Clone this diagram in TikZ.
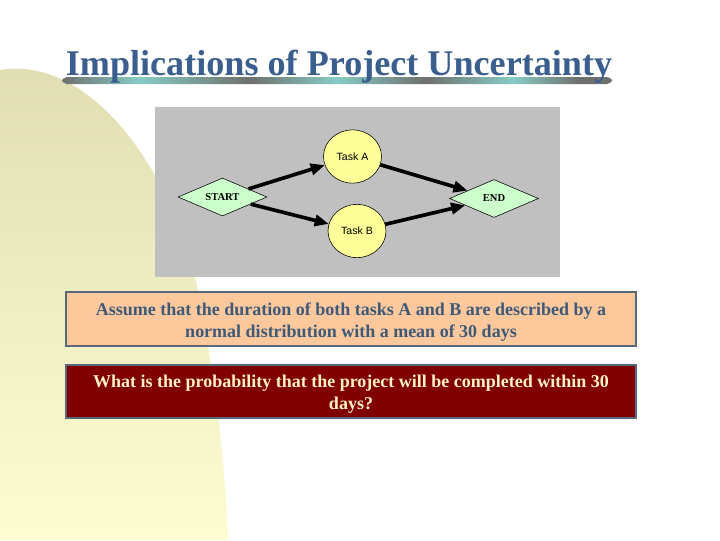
\documentclass[tikz,border=0pt]{standalone}
\usepackage{fontspec}
\setmainfont{Liberation Serif}
\newfontfamily\arialfont{Liberation Sans}
\usetikzlibrary{shapes.geometric, arrows.meta, positioning}

\definecolor{titleblue}{HTML}{3A5F8E}
\definecolor{ylwtop}{HTML}{E0DDB2}
\definecolor{ylwbot}{HTML}{FEFDD2}
\definecolor{bargray}{HTML}{6E706E}
\definecolor{barteal}{HTML}{86CCC4}
\definecolor{panelgray}{HTML}{C0C0C0}
\definecolor{taskfill}{HTML}{FFFF99}
\definecolor{msfill}{HTML}{CCFFCC}
\definecolor{peach}{HTML}{FCC89C}
\definecolor{maroon}{HTML}{800000}
\definecolor{boxline}{HTML}{56687A}
\definecolor{slate}{HTML}{3E5A78}
\definecolor{cream}{HTML}{FFF3C4}

\pgfdeclarehorizontalshading{barshade}{100bp}{color(0bp)=(bargray); color(25bp)=(bargray);
  color(32bp)=(barteal); color(42bp)=(bargray); color(50bp)=(barteal); color(58bp)=(bargray);
  color(66bp)=(barteal); color(72bp)=(bargray); color(75bp)=(bargray); color(100bp)=(bargray)}

\newcommand{\topstrut}{\rule{0pt}{13pt}}

\begin{document}
\begin{tikzpicture}[x=0.025cm, y=-0.025cm,
  task/.style={ellipse, draw=black, fill=taskfill, inner sep=0pt,
    minimum width=1.45cm, minimum height=1.33cm, font=\arialfont\fontsize{7.5}{9}\selectfont},
  milestone/.style={diamond, draw=black, fill=msfill, inner sep=0pt, aspect=2.3,
    minimum width=2.22cm, minimum height=0.95cm, font=\fontsize{7.5}{8}\selectfont\bfseries},
  link/.style={line width=2.6pt, -{Triangle[length=10pt, width=8pt]}},
  msgbox/.style={rectangle, draw=boxline, line width=1.4pt, minimum width=14.25cm,
    align=center, font=\fontsize{12.8}{15.6}\selectfont\bfseries}]

  \useasboundingbox (0,0) rectangle (720,540);
  \fill [white] (0,0) rectangle (720,540);

  % Background swoosh
  \shade [top color=ylwtop, bottom color=ylwbot]
    (0,540) -- (0,70) .. controls (90,55) and (175,170) .. (200,300)
    .. controls (215,380) and (225,460) .. (228,540) -- cycle;

  % Title and underline
  \shade [shading=barshade, rounded corners=3.5] (62,77) rectangle (612,84);
  \node [anchor=base, text=titleblue, font=\fontsize{25.7}{30}\selectfont\bfseries] (ttl) at (339,75)
    {Implications of Project Uncertainty};

  % Network panel
  \fill [panelgray] (155,107) rectangle (560,277);

  % Activities
  \node [milestone] (st) at (222.5,197) {START};
  \node [task] (ta) at (352.5,156.5) {Task A};
  \node [task] (tb) at (357,231) {Task B};
  \node [milestone] (en) at (494,198.5) {END};

  % Precedence arrows
  \draw [link] (st) -- (ta); % START to A
  \draw [link] (st) -- (tb); % START to B
  \draw [link] (ta) -- (en); % A to END
  \draw [link] (tb) -- (en); % B to END

  % Text boxes
  \node [msgbox, fill=peach, text=slate, minimum height=1.35cm] (b1) at (351,319)
    {\topstrut Assume that the duration of both tasks A and B are described by a\\
     normal distribution with a mean of 30 days};
  \node [msgbox, fill=maroon, text=cream, minimum height=1.275cm] (b2) at (351,391.5)
    {\topstrut What is the probability that the project will be completed within 30\\
     days?};
\end{tikzpicture}
\end{document}
